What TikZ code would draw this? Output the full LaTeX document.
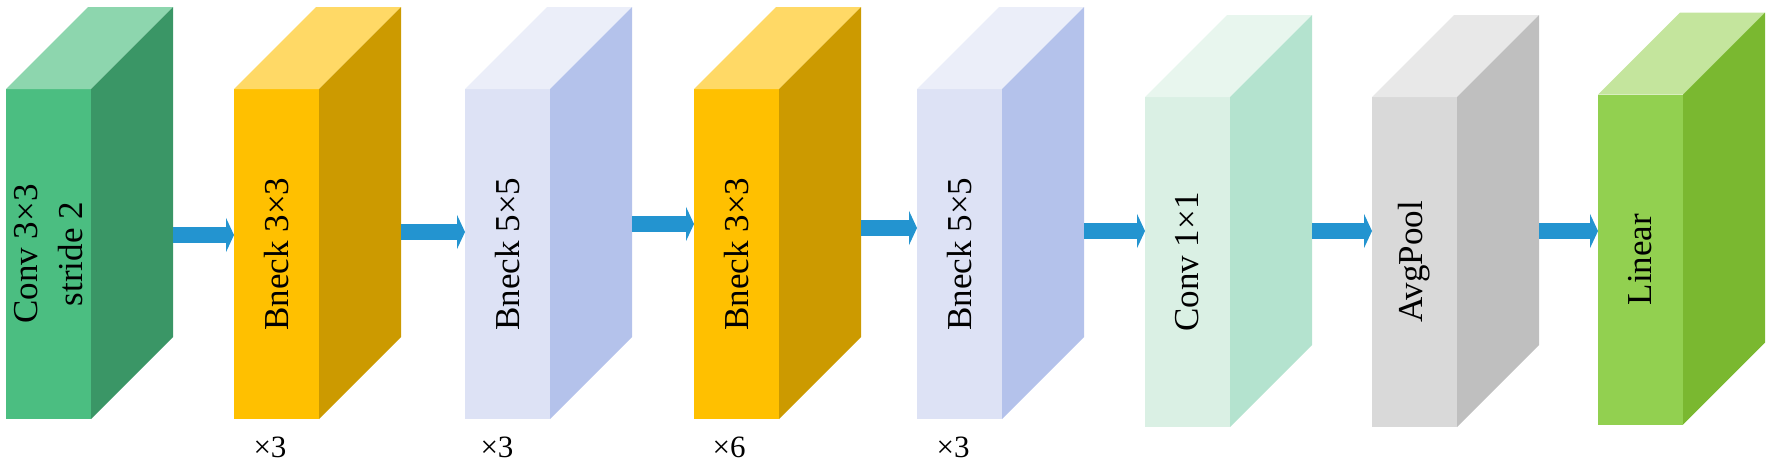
\documentclass[tikz,border=0pt]{standalone}
\usepackage{fontspec}
\setmainfont{Liberation Serif}
\usepackage{tikz}
\usetikzlibrary{arrows.meta,calc}
\definecolor{convfront}{HTML}{4BBE81}
\definecolor{convside}{HTML}{3A9666}
\definecolor{convtop}{HTML}{8DD6AE}
\definecolor{goldfront}{HTML}{FFC000}
\definecolor{goldside}{HTML}{CC9A00}
\definecolor{goldtop}{HTML}{FFD966}
\definecolor{lavfront}{HTML}{DDE2F5}
\definecolor{lavside}{HTML}{B4C2EB}
\definecolor{lavtop}{HTML}{EBEEF9}
\definecolor{mintfront}{HTML}{DAF0E4}
\definecolor{mintside}{HTML}{B4E3CF}
\definecolor{minttop}{HTML}{E8F6EE}
\definecolor{greyfront}{HTML}{D9D9D9}
\definecolor{greyside}{HTML}{BFBFBF}
\definecolor{greytop}{HTML}{E8E8E8}
\definecolor{limefront}{HTML}{92D050}
\definecolor{limeside}{HTML}{7AB830}
\definecolor{limetop}{HTML}{C4E59D}
\definecolor{flowblue}{HTML}{2394D0}
% top and side faces behind a front face node
\newcommand{\cubefaces}[3]{%
  \fill[#2] (#1.north west) -- ++(82,-82) -- ++(85,0) -- (#1.north east) -- cycle;
  \fill[#3] (#1.north east) -- ++(82,-82) -- ++(0,330) -- (#1.south east) -- cycle;}

\begin{document}
\begin{tikzpicture}[
  x=1pt, y=-1pt,
  block/.style={minimum width=85pt, minimum height=330pt, inner sep=0pt, outer sep=0pt},
  blocktext/.style={rotate=90, align=center, inner sep=0pt,
    font=\fontsize{35}{45}\selectfont},
  repeatnote/.style={font=\fontsize{31}{34}\selectfont, inner sep=0pt},
  flow/.style={-{Triangle[length=8pt, width=34pt]}, line width=16pt, flowblue}
]
\useasboundingbox (0,0) rectangle (1772,467);
% ---------------- blocks ----------------
\node[block, fill=convfront, label={[blocktext]center:Conv 3×3\\stride 2}] (conv) at (48.5,254) {};
\cubefaces{conv}{convtop}{convside}
\node[block, fill=goldfront, label={[blocktext]center:Bneck 3×3}] (bneckA) at (276.5,254) {};
\cubefaces{bneckA}{goldtop}{goldside}
\node[block, fill=lavfront, label={[blocktext]center:Bneck 5×5}] (bneckB) at (507.5,254) {};
\cubefaces{bneckB}{lavtop}{lavside}
\node[block, fill=goldfront, label={[blocktext]center:Bneck 3×3}] (bneckC) at (736.5,254) {};
\cubefaces{bneckC}{goldtop}{goldside}
\node[block, fill=lavfront, label={[blocktext]center:Bneck 5×5}] (bneckD) at (959.5,254) {};
\cubefaces{bneckD}{lavtop}{lavside}
\node[block, fill=mintfront, label={[blocktext]center:Conv 1×1}] (convB) at (1187.5,262) {};
\cubefaces{convB}{minttop}{mintside}
\node[block, fill=greyfront, label={[blocktext]center:AvgPool}] (pool) at (1414.5,262) {};
\cubefaces{pool}{greytop}{greyside}
\node[block, fill=limefront, label={[blocktext]center:Linear}] (linear) at (1640.5,259.5) {};
\cubefaces{linear}{limetop}{limeside}
% ---------------- repeat counts ----------------
\node[repeatnote] (repA) at (270,447) {×3};
\node[repeatnote] (repB) at (497,447) {×3};
\node[repeatnote] (repC) at (729,447) {×6};
\node[repeatnote] (repD) at (953,447) {×3};
% ---------------- arrows ----------------
\coordinate (outA) at ($(conv.east)+(82,-19)$);
\coordinate (outB) at ($(bneckA.east)+(82,-22)$);
\coordinate (outC) at ($(bneckB.east)+(82,-30)$);
\coordinate (outD) at ($(bneckC.east)+(82,-26)$);
\coordinate (outE) at ($(bneckD.east)+(82,-23)$);
\coordinate (outF) at ($(convB.east)+(82,-31)$);
\coordinate (outG) at ($(pool.east)+(82,-31)$);
\draw[flow] (outA) -- (outA -| bneckA.west);
\draw[flow] (outB) -- (outB -| bneckB.west);
\draw[flow] (outC) -- (outC -| bneckC.west);
\draw[flow] (outD) -- (outD -| bneckD.west);
\draw[flow] (outE) -- (outE -| convB.west);
\draw[flow] (outF) -- (outF -| pool.west);
\draw[flow] (outG) -- (outG -| linear.west);
\end{tikzpicture}
\end{document}
